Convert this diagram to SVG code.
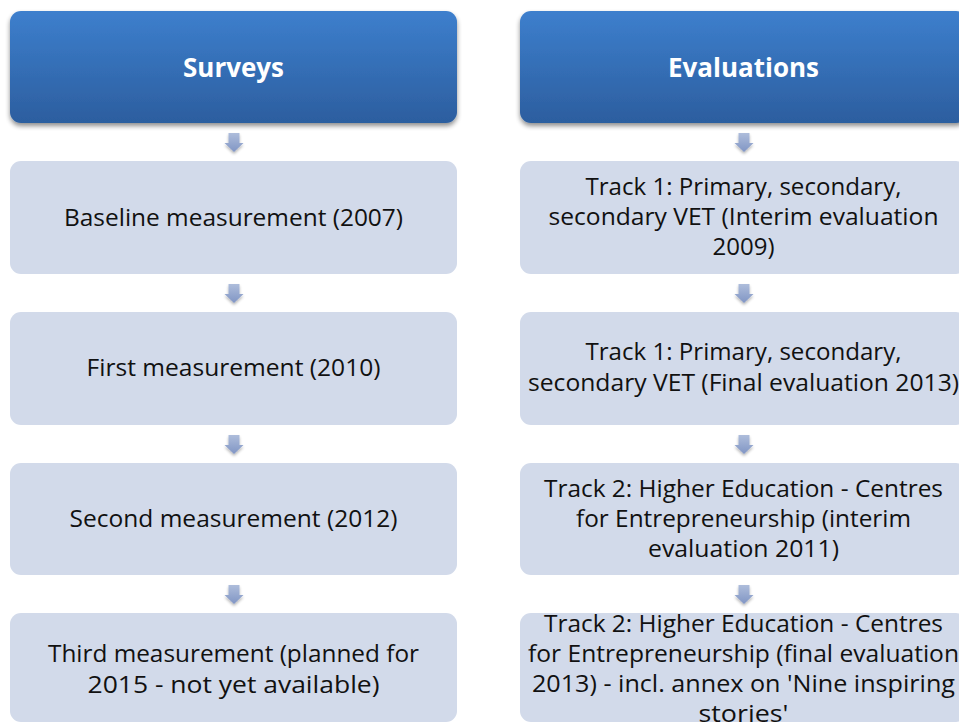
<svg xmlns="http://www.w3.org/2000/svg" width="959" height="725" viewBox="0 0 959 725">
<defs>
<linearGradient id="hdr" x1="0" y1="0" x2="0" y2="1">
<stop offset="0" stop-color="#3d7fcd"/>
<stop offset="1" stop-color="#2c5e9f"/>
</linearGradient>
<linearGradient id="arr" x1="0" y1="0" x2="0" y2="1">
<stop offset="0" stop-color="#aebddb"/>
<stop offset="1" stop-color="#8095c4"/>
</linearGradient>
<filter id="sh" x="-10%" y="-10%" width="120%" height="130%">
<feGaussianBlur in="SourceAlpha" stdDeviation="2.5"/>
<feOffset dx="0" dy="3" result="b"/>
<feComponentTransfer><feFuncA type="linear" slope="0.45"/></feComponentTransfer>
<feMerge><feMergeNode/><feMergeNode in="SourceGraphic"/></feMerge>
</filter>
<filter id="ash" x="-30%" y="-30%" width="160%" height="170%">
<feGaussianBlur in="SourceAlpha" stdDeviation="1.5"/>
<feOffset dx="0" dy="2" result="b"/>
<feComponentTransfer><feFuncA type="linear" slope="0.3"/></feComponentTransfer>
<feMerge><feMergeNode/><feMergeNode in="SourceGraphic"/></feMerge>
</filter>
<path id="a" d="M-5.5,0 H5.5 V10 H9.5 L0,19 L-9.5,10 H-5.5 Z"/>
</defs>
<style>
.hdr{fill:url(#hdr);filter:url(#sh)}
.box{fill:#d2daea}
.ht{font-family:"Open Sans","Liberation Sans",sans-serif;font-weight:bold;font-size:27px;fill:#ffffff;text-anchor:middle}
.t{font-family:"Open Sans","Liberation Sans",sans-serif;font-size:23px;fill:#111111;text-anchor:middle}
.ar{fill:url(#arr);filter:url(#ash)}
</style>
<rect width="959" height="725" fill="#ffffff"/>

<g id="connectors">
<use href="#a" class="ar" x="234" y="133"/>
<use href="#a" class="ar" x="234" y="284"/>
<use href="#a" class="ar" x="234" y="435"/>
<use href="#a" class="ar" x="234" y="585"/>
<use href="#a" class="ar" x="744" y="133"/>
<use href="#a" class="ar" x="744" y="284"/>
<use href="#a" class="ar" x="744" y="435"/>
<use href="#a" class="ar" x="744" y="585"/>
</g>

<g id="surveys">
<rect class="hdr" x="10" y="11" width="447" height="112" rx="11"/>
<text class="ht" x="233.5" y="77" textLength="101" lengthAdjust="spacingAndGlyphs">Surveys</text>
</g>
<g id="evaluations">
<rect class="hdr" x="520" y="11" width="447" height="112" rx="11"/>
<text class="ht" x="743.5" y="77" textLength="151" lengthAdjust="spacingAndGlyphs">Evaluations</text>
</g>

<g id="baseline">
<rect class="box" x="10" y="161" width="447" height="113" rx="11"/>
<text class="t" x="233.5" y="226" textLength="339" lengthAdjust="spacingAndGlyphs">Baseline measurement (2007)</text>
</g>
<g id="first">
<rect class="box" x="10" y="312" width="447" height="113" rx="11"/>
<text class="t" x="233.5" y="376" textLength="294" lengthAdjust="spacingAndGlyphs">First measurement (2010)</text>
</g>
<g id="second">
<rect class="box" x="10" y="463" width="447" height="112" rx="11"/>
<text class="t" x="233.5" y="527" textLength="328" lengthAdjust="spacingAndGlyphs">Second measurement (2012)</text>
</g>
<g id="third">
<rect class="box" x="10" y="613" width="447" height="109" rx="11"/>
<text class="t" x="233.5" y="662" textLength="371" lengthAdjust="spacingAndGlyphs">Third measurement (planned for</text>
<text class="t" x="233.5" y="693" textLength="292" lengthAdjust="spacingAndGlyphs">2015 - not yet available)</text>
</g>

<g id="track1-interim">
<rect class="box" x="520" y="161" width="447" height="113" rx="11"/>
<text class="t" x="743.5" y="195" textLength="316" lengthAdjust="spacingAndGlyphs">Track 1: Primary, secondary,</text>
<text class="t" x="743.5" y="225" textLength="390" lengthAdjust="spacingAndGlyphs">secondary VET (Interim evaluation</text>
<text class="t" x="743.5" y="255" textLength="62" lengthAdjust="spacingAndGlyphs">2009)</text>
</g>
<g id="track1-final">
<rect class="box" x="520" y="312" width="447" height="113" rx="11"/>
<text class="t" x="743.5" y="360" textLength="316" lengthAdjust="spacingAndGlyphs">Track 1: Primary, secondary,</text>
<text class="t" x="743.5" y="391" textLength="431" lengthAdjust="spacingAndGlyphs">secondary VET (Final evaluation 2013)</text>
</g>
<g id="track2-interim">
<rect class="box" x="520" y="463" width="447" height="112" rx="11"/>
<text class="t" x="743.5" y="497" textLength="399" lengthAdjust="spacingAndGlyphs">Track 2: Higher Education - Centres</text>
<text class="t" x="743.5" y="527" textLength="335" lengthAdjust="spacingAndGlyphs">for Entrepreneurship (interim</text>
<text class="t" x="743.5" y="557" textLength="191" lengthAdjust="spacingAndGlyphs">evaluation 2011)</text>
</g>
<g id="track2-final">
<rect class="box" x="520" y="613" width="447" height="109" rx="11"/>
<text class="t" x="743.5" y="632" textLength="399" lengthAdjust="spacingAndGlyphs">Track 2: Higher Education - Centres</text>
<text class="t" x="743.5" y="662" textLength="431" lengthAdjust="spacingAndGlyphs">for Entrepreneurship (final evaluation</text>
<text class="t" x="743.5" y="692" textLength="423" lengthAdjust="spacingAndGlyphs">2013) - incl. annex on 'Nine inspiring</text>
<text class="t" x="743.5" y="722" textLength="90" lengthAdjust="spacingAndGlyphs">stories'</text>
</g>
</svg>
